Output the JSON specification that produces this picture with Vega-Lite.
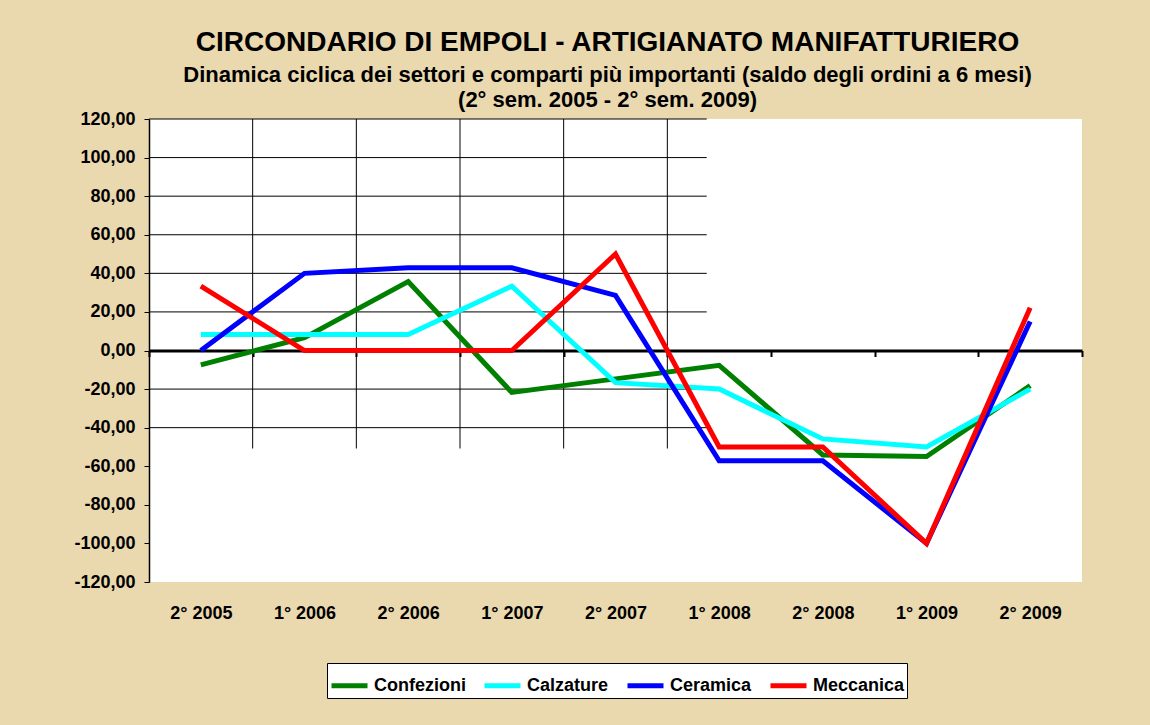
{
  "$schema": "https://vega.github.io/schema/vega-lite/v6.json",
  "width": 933,
  "height": 463,
  "autosize": {"type": "none"},
  "padding": {"left": 149, "top": 119, "right": 68, "bottom": 143},
  "background": "#ead8ae",
  "config": {
    "font": "Liberation Sans",
    "view": {"fill": "white", "stroke": null},
    "axisY": {"labelOverlap": false}
  },
  "title": {
    "text": "CIRCONDARIO DI EMPOLI - ARTIGIANATO MANIFATTURIERO",
    "subtitle": ["Dinamica ciclica dei settori e comparti più importanti (saldo degli ordini a 6 mesi)", "(2° sem. 2005 - 2° sem. 2009)"],
    "anchor": "middle",
    "dx": -8,
    "fontSize": 28,
    "fontWeight": "bold",
    "color": "black",
    "subtitleFontSize": 22,
    "subtitleFontWeight": "bold",
    "subtitleColor": "black",
    "subtitleLineHeight": 25,
    "subtitlePadding": 8,
    "offset": -1
  },
  "layer": [
    {
      "data": {"values": [
        {"gx": 0, "gx2": 5.38, "gy": 120, "gy2": 120},
        {"gx": 0, "gx2": 5.38, "gy": 100, "gy2": 100},
        {"gx": 0, "gx2": 5.38, "gy": 80, "gy2": 80},
        {"gx": 0, "gx2": 5.38, "gy": 60, "gy2": 60},
        {"gx": 0, "gx2": 5.38, "gy": 40, "gy2": 40},
        {"gx": 0, "gx2": 5.38, "gy": 20, "gy2": 20},
        {"gx": 0, "gx2": 5.38, "gy": -20, "gy2": -20},
        {"gx": 0, "gx2": 5.38, "gy": -40, "gy2": -40},
        {"gx": 1, "gx2": 1, "gy": 120, "gy2": -50.8},
        {"gx": 2, "gx2": 2, "gy": 120, "gy2": -50.8},
        {"gx": 3, "gx2": 3, "gy": 120, "gy2": -50.8},
        {"gx": 4, "gx2": 4, "gy": 120, "gy2": -50.8},
        {"gx": 5, "gx2": 5, "gy": 120, "gy2": -50.8}
      ]},
      "mark": {"type": "rule", "color": "black", "strokeWidth": 1},
      "encoding": {
        "x": {
          "field": "gx", "type": "quantitative",
          "scale": {"domain": [0, 9], "nice": false, "zero": false},
          "axis": {
            "orient": "bottom", "offset": -231.5,
            "values": [0, 1, 2, 3, 4, 5, 6, 7, 8, 9],
            "labels": false, "grid": false, "title": null,
            "domainColor": "black", "domainWidth": 3,
            "tickColor": "black", "tickWidth": 2, "tickSize": 6
          }
        },
        "x2": {"field": "gx2"},
        "y": {
          "field": "gy", "type": "quantitative",
          "scale": {"domain": [-120, 120], "nice": false, "zero": false},
          "axis": {
            "values": [-120, -100, -80, -60, -40, -20, 0, 20, 40, 60, 80, 100, 120],
            "title": null, "grid": false, "labelOverlap": false,
            "domainColor": "black", "domainWidth": 1.5,
            "tickColor": "black", "tickSize": 5, "tickWidth": 1,
            "labelFontSize": 18, "labelFontWeight": "bold", "labelColor": "black",
            "labelPadding": 9,
            "labelExpr": "(datum.value < 0 ? '-' : '') + replace(format(abs(datum.value), '.2f'), '.', ',')"
          }
        },
        "y2": {"field": "gy2"}
      }
    },
    {
      "data": {"values": [
        {"period": "2° 2005", "series": "Confezioni", "value": -7.41},
        {"period": "1° 2006", "series": "Confezioni", "value": 6.67},
        {"period": "2° 2006", "series": "Confezioni", "value": 35.71},
        {"period": "1° 2007", "series": "Confezioni", "value": -21.74},
        {"period": "2° 2007", "series": "Confezioni", "value": -14.71},
        {"period": "1° 2008", "series": "Confezioni", "value": -7.69},
        {"period": "2° 2008", "series": "Confezioni", "value": -54.17},
        {"period": "1° 2009", "series": "Confezioni", "value": -55.0},
        {"period": "2° 2009", "series": "Confezioni", "value": -18.18},
        {"period": "2° 2005", "series": "Calzature", "value": 8.33},
        {"period": "1° 2006", "series": "Calzature", "value": 8.33},
        {"period": "2° 2006", "series": "Calzature", "value": 8.33},
        {"period": "1° 2007", "series": "Calzature", "value": 33.33},
        {"period": "2° 2007", "series": "Calzature", "value": -16.67},
        {"period": "1° 2008", "series": "Calzature", "value": -20.0},
        {"period": "2° 2008", "series": "Calzature", "value": -45.83},
        {"period": "1° 2009", "series": "Calzature", "value": -50.0},
        {"period": "2° 2009", "series": "Calzature", "value": -20.0},
        {"period": "2° 2005", "series": "Ceramica", "value": 0},
        {"period": "1° 2006", "series": "Ceramica", "value": 40.0},
        {"period": "2° 2006", "series": "Ceramica", "value": 42.86},
        {"period": "1° 2007", "series": "Ceramica", "value": 42.86},
        {"period": "2° 2007", "series": "Ceramica", "value": 28.57},
        {"period": "1° 2008", "series": "Ceramica", "value": -57.14},
        {"period": "2° 2008", "series": "Ceramica", "value": -57.14},
        {"period": "1° 2009", "series": "Ceramica", "value": -100.0},
        {"period": "2° 2009", "series": "Ceramica", "value": 15.0},
        {"period": "2° 2005", "series": "Meccanica", "value": 33.33},
        {"period": "1° 2006", "series": "Meccanica", "value": 0},
        {"period": "2° 2006", "series": "Meccanica", "value": 0},
        {"period": "1° 2007", "series": "Meccanica", "value": 0},
        {"period": "2° 2007", "series": "Meccanica", "value": 50.0},
        {"period": "1° 2008", "series": "Meccanica", "value": -50.0},
        {"period": "2° 2008", "series": "Meccanica", "value": -50.0},
        {"period": "1° 2009", "series": "Meccanica", "value": -100.0},
        {"period": "2° 2009", "series": "Meccanica", "value": 22.22}
      ]},
      "mark": {"type": "line", "strokeWidth": 5},
      "encoding": {
        "x": {
          "field": "period", "type": "nominal", "sort": null,
          "axis": {
            "orient": "bottom", "title": null, "domain": false, "ticks": false,
            "labelAngle": 0, "labelFontSize": 18, "labelFontWeight": "bold",
            "labelColor": "black", "labelPadding": 22
          }
        },
        "y": {
          "field": "value", "type": "quantitative",
          "scale": {"domain": [-120, 120], "nice": false, "zero": false},
          "axis": {
            "values": [-120, -100, -80, -60, -40, -20, 0, 20, 40, 60, 80, 100, 120],
            "title": null, "grid": false, "labelOverlap": false,
            "domainColor": "black", "domainWidth": 1.5,
            "tickColor": "black", "tickSize": 5, "tickWidth": 1,
            "labelFontSize": 18, "labelFontWeight": "bold", "labelColor": "black",
            "labelPadding": 9,
            "labelExpr": "(datum.value < 0 ? '-' : '') + replace(format(abs(datum.value), '.2f'), '.', ',')"
          }
        },
        "color": {
          "field": "series", "type": "nominal",
          "scale": {
            "domain": ["Confezioni", "Calzature", "Ceramica", "Meccanica"],
            "range": ["#008000", "#00ffff", "#0000ff", "#ff0000"]
          },
          "legend": {
            "orient": "none", "legendX": 178, "legendY": 544,
            "direction": "horizontal", "columns": 4, "title": null,
            "symbolType": "stroke", "symbolSize": 1296, "symbolStrokeWidth": 5,
            "labelFontSize": 18, "labelFontWeight": "bold", "labelColor": "black",
            "labelOffset": 4, "columnPadding": 8,
            "fillColor": "white", "strokeColor": "black", "padding": 2
          }
        }
      }
    }
  ],
  "resolve": {"scale": {"x": "independent"}}
}
